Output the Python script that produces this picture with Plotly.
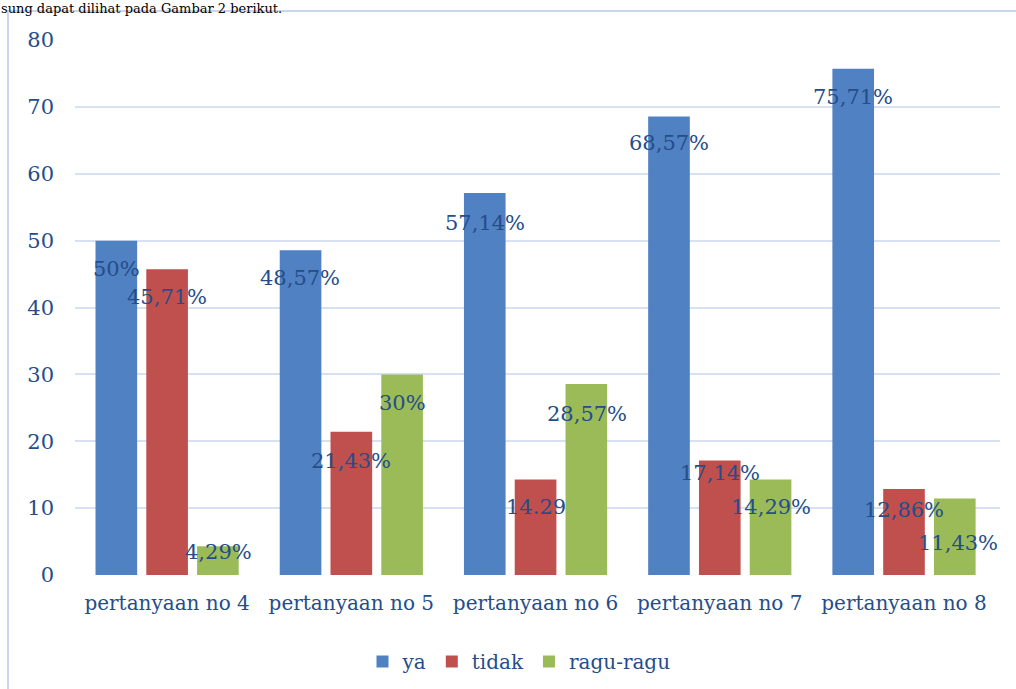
import plotly.graph_objects as go

categories = ["pertanyaan no 4", "pertanyaan no 5", "pertanyaan no 6", "pertanyaan no 7", "pertanyaan no 8"]
series_names = ["ya", "tidak", "ragu-ragu"]
ya = [50, 48.57, 57.14, 68.57, 75.71]
tidak = [45.71, 21.43, 14.29, 17.14, 12.86]
ragu = [4.29, 30, 28.57, 14.29, 11.43]
ya_labels = ["50%", "48,57%", "57,14%", "68,57%", "75,71%"]
tidak_labels = ["45,71%", "21,43%", "14.29", "17,14%", "12,86%"]
ragu_labels = ["4,29%", "30%", "28,57%", "14,29%", "11,43%"]
y_ticks = [0, 10, 20, 30, 40, 50, 60, 70, 80]
caption = "sung dapat dilihat pada Gambar 2 berikut."

# styling
FONT = "DejaVu Serif"
TXT = "#254d8a"
colors = ["#5081c2", "#c0504d", "#9bbb59"]
# label vertical offsets (px below bar top) per series, per category
label_drop = [
    [28, 28, 30, 27, 28],
    [28, 29, 28, 13, 21],
    [6, 29, 30, 28, 44],
]
label_dx = [-51, 0, 51]

L, R, T, B = 75, 16, 40, 114
W, H = 1016, 689
pw, ph = W - L - R, H - T - B

fig = go.Figure()
all_vals = [ya, tidak, ragu]
all_labels = [ya_labels, tidak_labels, ragu_labels]
for name, vals, c in zip(series_names, all_vals, colors):
    fig.add_trace(go.Bar(x=categories, y=vals, name=name, marker=dict(color=c, line=dict(width=0))))

annotations = []
for s in range(3):
    for i, cat in enumerate(categories):
        annotations.append(dict(
            x=cat, y=all_vals[s][i], xref="x", yref="y",
            text=all_labels[s][i], showarrow=False,
            xshift=label_dx[s] + (3 if (s == 2 and i == 4) else 0),
            yshift=-label_drop[s][i], yanchor="middle", xanchor="center",
            font=dict(family=FONT, size=21, color=TXT),
        ))

annotations.append(dict(
    text=caption, xref="paper", yref="paper",
    x=(0 - L) / pw, y=(H - B - 0) / ph, xanchor="left", yanchor="top",
    showarrow=False, font=dict(family=FONT, size=13, color="#000000"),
    borderpad=0,
))

fig.update_layout(
    width=W, height=H,
    margin=dict(l=L, r=R, t=T, b=B, autoexpand=False),
    paper_bgcolor="white", plot_bgcolor="white",
    barmode="group", bargap=0.173, bargroupgap=0.18,
    font=dict(family=FONT, size=20, color=TXT),
    showlegend=True,
    legend=dict(orientation="h", x=0.48, xanchor="center", y=-0.125, yanchor="top",
                font=dict(family=FONT, size=20, color=TXT), itemwidth=30, traceorder="normal"),
    annotations=annotations,
    shapes=[dict(type="rect", xref="paper", yref="paper",
                 x0=(8 - L) / pw, x1=(W + 20 - L) / pw,
                 y0=(H - B - 11) / ph, y1=(H - B - H - 20) / ph,
                 line=dict(color="#c9d7ec", width=2), fillcolor="rgba(0,0,0,0)", layer="below")],
)
fig.update_yaxes(range=[0, 80], tickvals=y_ticks, showgrid=True, gridcolor="#d6e1f2", gridwidth=2,
                 zeroline=False, showline=False, ticks="", ticklabelstandoff=20, automargin=False,
                 tickfont=dict(family=FONT, size=21, color=TXT))
fig.update_xaxes(showgrid=False, showline=False, ticks="", ticklabelstandoff=14, automargin=False,
                 tickfont=dict(family=FONT, size=20, color=TXT))

fig.write_html("out.html", config={"displayModeBar": False},
               post_script="document.body.style.margin='0';document.body.style.padding='0';")
